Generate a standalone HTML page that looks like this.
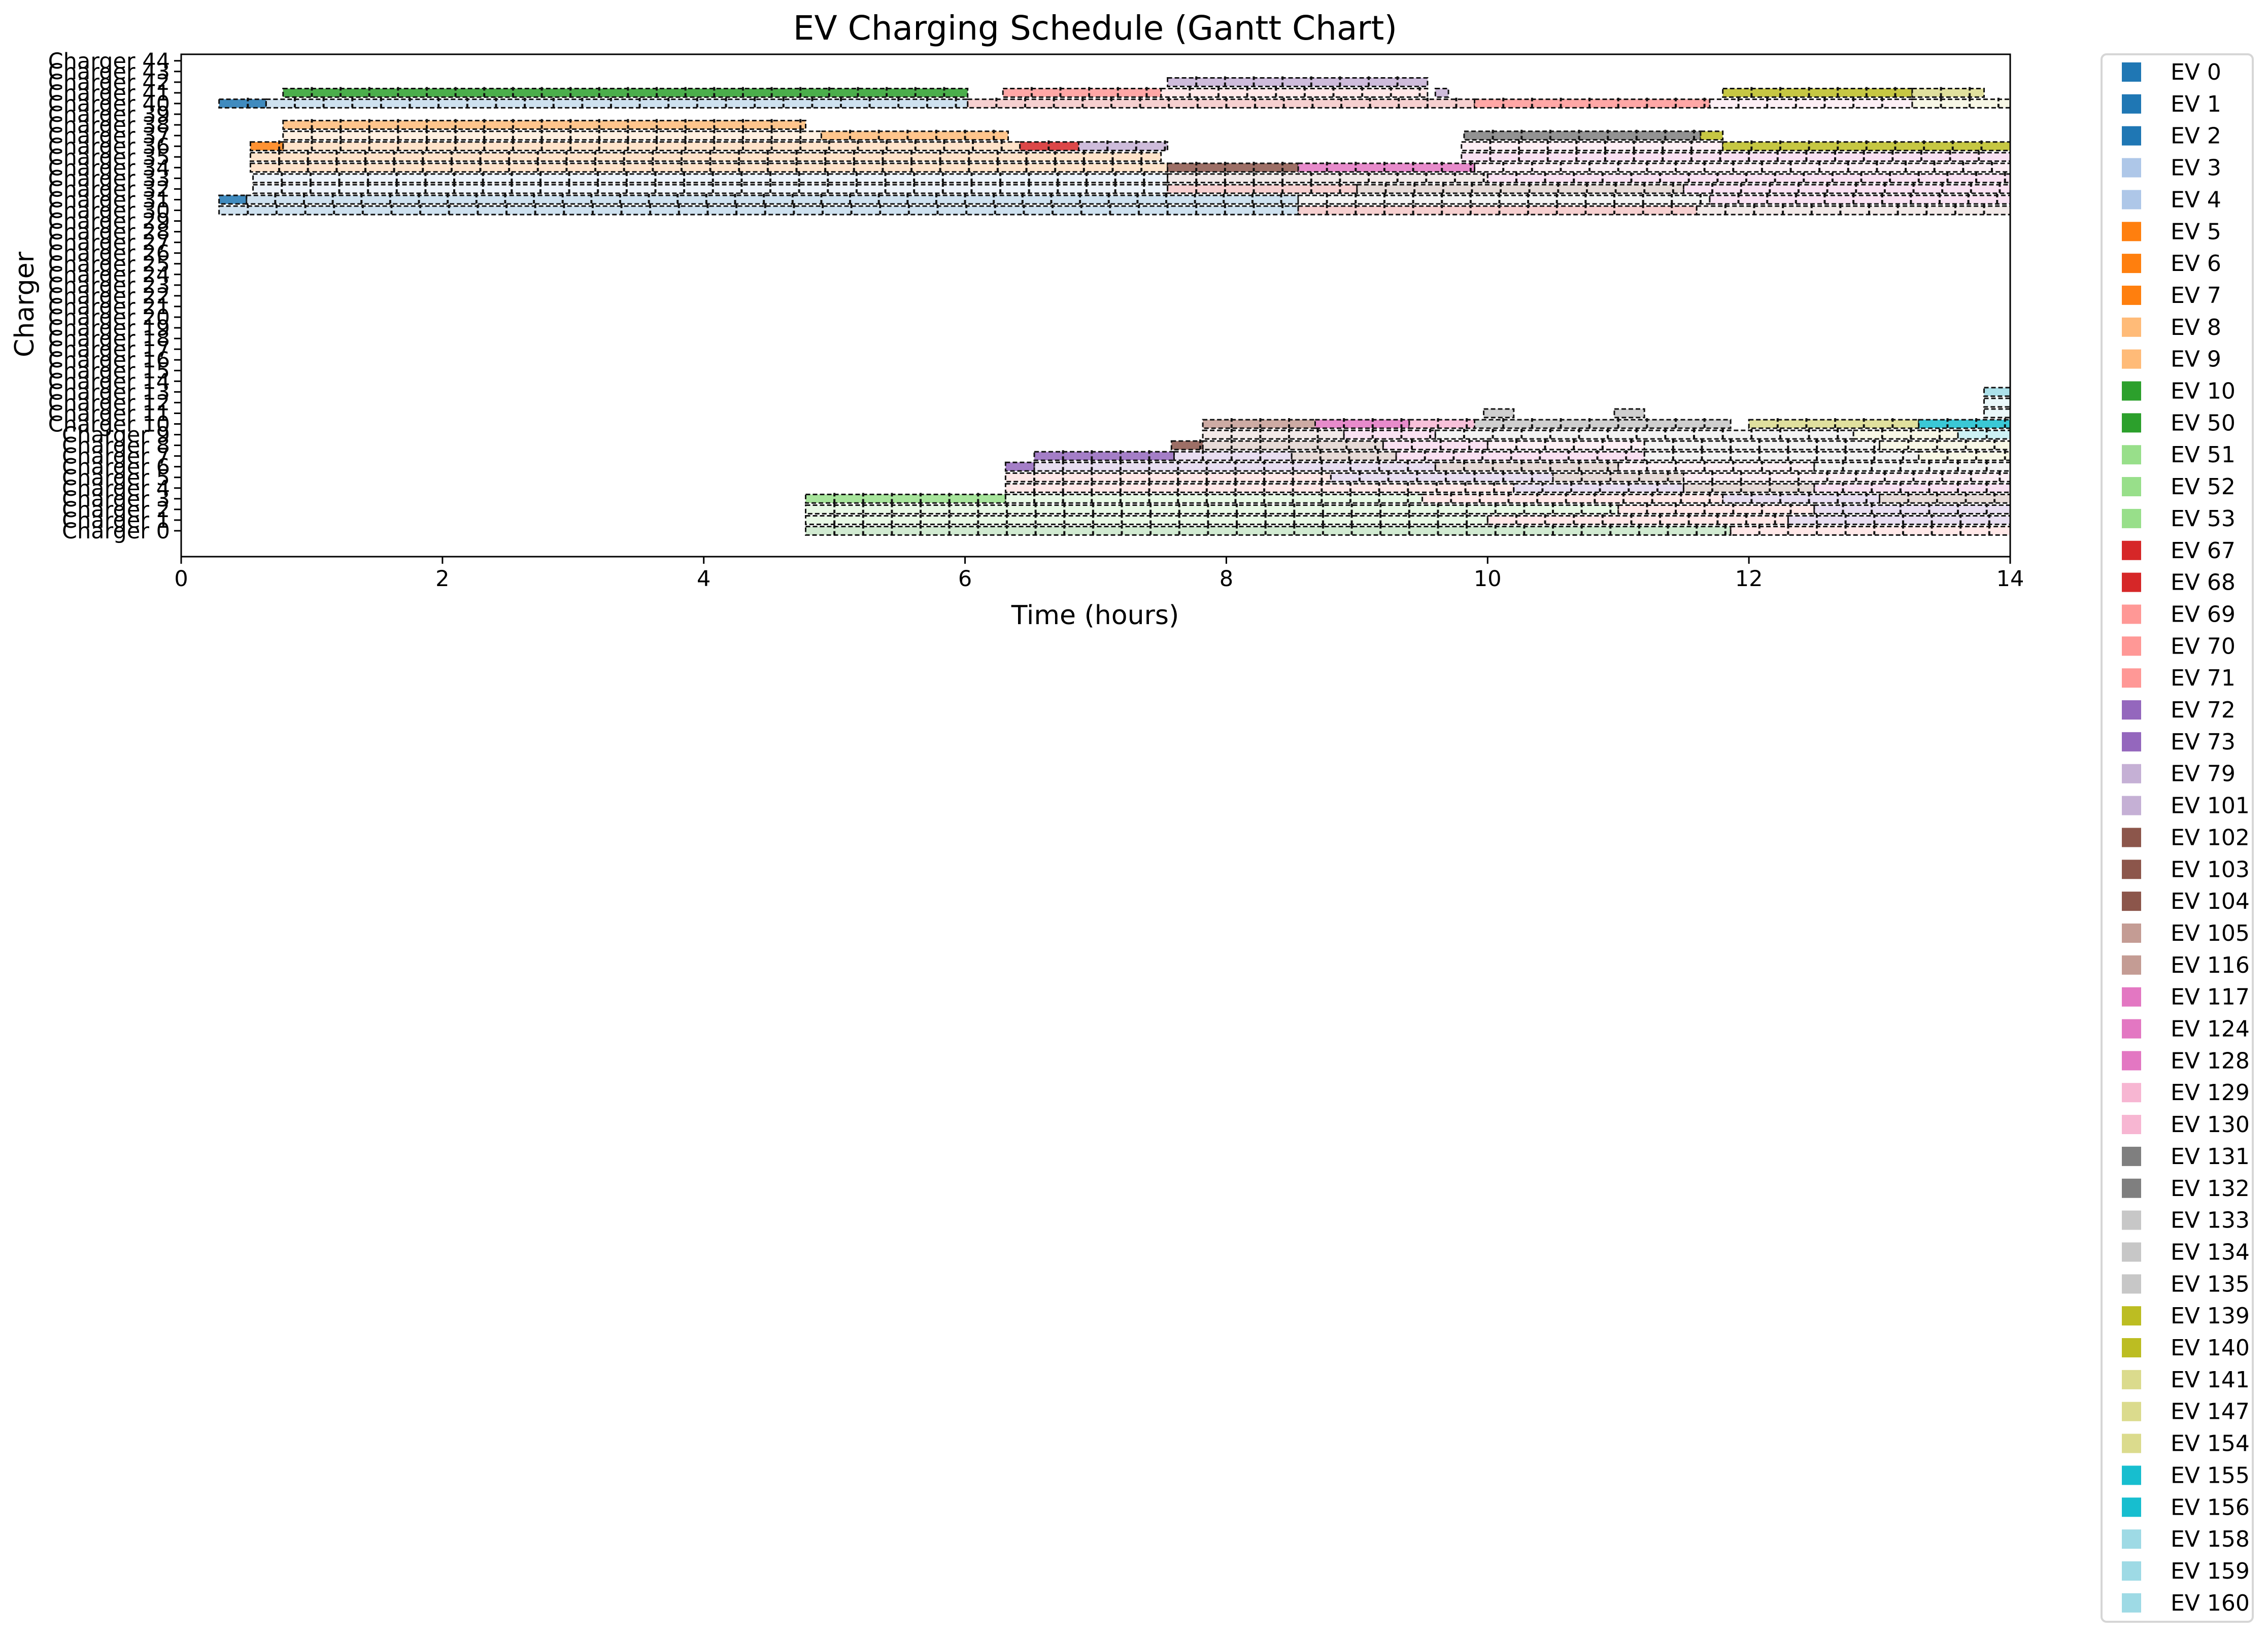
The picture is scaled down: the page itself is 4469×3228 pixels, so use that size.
<!DOCTYPE html>
<html><head><meta charset="utf-8">
<style>
html,body{margin:0;padding:0;background:#fff;}
svg{display:block;font-family:"DejaVu Sans","Liberation Sans",sans-serif;}
</style></head>
<body>
<svg id="chart" width="4469" height="3228" viewBox="0 0 4469 3228" xmlns="http://www.w3.org/2000/svg">
<rect x="0" y="0" width="4469" height="3228" fill="#fff"/>
<text x="2158" y="78" font-size="66" text-anchor="middle">EV Charging Schedule (Gantt Chart)</text>
<g id="bars"></g>
<g id="axes"></g>
<text x="2158" y="1230" font-size="52" text-anchor="middle">Time (hours)</text>
<text x="0" y="0" font-size="52" text-anchor="middle" transform="translate(66,600) rotate(-90)">Charger</text>
<g id="legend"></g>
</svg>
<script>
// ---- data ----
const segCharger = [42,41,41,41,41,41,41,40,40,40,40,40,40,38,37,37,37,37,36,36,36,36,36,36,35,35,34,34,34,34,33,33,33,32,32,32,32,31,31,31,31,30,30,30,
 0,0,1,1,1,2,2,2,3,3,3,3,3,4,4,4,4,5,5,5,5,6,6,6,6,6,7,7,7,7,7,7,8,8,8,8,8,8,9,9,9,9,9,10,10,10,10,10,10,11,11,11,12,13];
const segStart = [7.55,0.78,6.29,7.5,9.6,11.8,13.25,0.29,0.65,6.02,9.9,11.7,13.25,0.78,0.78,4.9,9.82,11.63,0.53,0.78,6.42,6.87,9.8,11.8,0.53,9.8,0.53,7.55,8.55,9.9,0.55,7.55,10,0.55,7.55,9,11.5,0.29,0.5,8.55,11.7,0.29,8.55,11.6,
 4.78,11.86,4.78,10,12.3,4.78,11,12.5,4.78,6.31,9.5,11.8,13,6.31,10.2,11.5,12.5,6.31,8.8,10.5,11.5,6.31,6.53,9.6,11,12.5,6.53,7.6,8.5,9.3,11.2,13.3,7.58,7.82,9.2,10,11.2,13,7.82,8.9,9.6,12.8,13.6,7.82,8.68,9.4,9.9,12.0,13.3,9.97,10.97,13.8,13.8,13.8];
const segEnd = [9.54,6.02,7.5,9.54,9.7,13.25,13.8,0.65,6.02,9.9,11.7,13.25,14,4.78,4.9,6.33,11.63,11.8,0.78,6.42,6.87,7.55,11.8,14,7.5,14,7.55,8.55,9.9,14,7.55,10,14,7.55,9,11.5,14,0.5,8.55,11.7,14,8.55,11.6,14,
 11.86,14,10,12.3,14,11,12.5,14,6.31,9.5,11.8,13,14,10.2,11.5,12.5,14,8.8,10.5,11.5,14,6.53,9.6,11,12.5,14,7.6,8.5,9.3,11.2,13.3,14,7.82,9.2,10,11.2,13,14,8.9,9.6,12.8,13.6,14,8.68,9.4,9.9,11.86,13.3,14,10.2,11.2,14,14,14];
const segEv = [79,10,69,69,79,139,141,0,1,67,69,129,141,8,9,8,131,139,5,5,67,79,129,139,6,117,7,102,117,129,3,105,117,4,67,102,117,0,1,133,117,2,67,105,
 50,70,51,69,72,52,70,73,53,53,71,72,103,69,73,103,124,70,72,104,129,72,73,104,130,133,72,73,102,128,134,147,103,103,124,130,135,154,116,128,134,154,156,105,117,129,133,141,155,133,134,159,158,160];
const legendEvs = [0,1,2,3,4,5,6,7,8,9,10,50,51,52,53,67,68,69,70,71,72,73,79,101,102,103,104,105,116,117,124,128,129,130,131,132,133,134,135,139,140,141,147,154,155,156,158,159,160];
const legendColorIdx = [0,0,0,1,1,2,2,2,3,3,4,4,5,5,5,6,6,7,7,7,8,8,9,9,10,10,10,11,11,12,12,12,13,13,14,14,15,15,15,16,16,17,17,17,18,18,19,19,19];
const chargerTicks = Array.from({length:45},(_, i)=>i);
const xTicks = [0,2,4,6,8,10,12,14];
// ---- styles ----
const palette = ['#1f77b4','#aec7e8','#ff7f0e','#ffbb78','#2ca02c','#98df8a','#d62728','#ff9896','#9467bd','#c5b0d5','#8c564b','#c49c94','#e377c2','#f7b6d2','#7f7f7f','#c7c7c7','#bcbd22','#dbdb8d','#17becf','#9edae5'];
const AX = {l:357, r:3961, t:107, b:1097};
const xs = h => AX.l + (h/14)*(AX.r-AX.l);
const ys = c => 1046 - c*21.05;
const NS = 'http://www.w3.org/2000/svg';
function colorOf(ev){ const i = legendEvs.indexOf(ev); return palette[legendColorIdx[i]]; }
function mk(tag, attrs, parent){ const e=document.createElementNS(NS,tag); for(const k in attrs) e.setAttribute(k,attrs[k]); parent.appendChild(e); return e; }

const bars = document.getElementById('bars');
const slot = 0.22, bh = 0.8*21.05;
for(let i=0;i<segCharger.length;i++){
  const c=segCharger[i], s=segStart[i], e=segEnd[i], mid=(s+e)/2;
  let covered=false;
  for(let j=0;j<segCharger.length;j++){ if(segCharger[j]===c+1 && segStart[j]<=mid && segEnd[j]>=mid){covered=true;break;} }
  const x0=xs(s), x1=xs(e), y0=ys(c)-bh/2;
  const r = mk('rect',{x:x0,y:y0,width:x1-x0,height:bh,fill:colorOf(segEv[i]),'fill-opacity':covered?0.22:0.85,stroke:'#111','stroke-width':3,'stroke-dasharray':'9,5'},bars);
  
  
  for(let t=s+slot;t<e-0.02;t+=slot){
    const l = mk('line',{x1:xs(t),x2:xs(t),y1:y0-3,y2:y0+bh+3,stroke:'#111','stroke-width':4,'stroke-dasharray':'7,5'},bars);
    
    
  }
}

const axes = document.getElementById('axes');
const frame = mk('rect',{x:AX.l,y:AX.t,width:AX.r-AX.l,height:AX.b-AX.t,fill:'none',stroke:'#000','stroke-width':3},axes);


xTicks.forEach(v=>{
  const x=xs(v);
  const tk = mk('line',{x1:x,x2:x,y1:AX.b,y2:AX.b+14,stroke:'#000','stroke-width':3},axes);
  
  
  const t = mk('text',{x:x,y:AX.b+58,'font-size':43,'text-anchor':'middle'},axes);
  t.textContent = v;
  
  
});
chargerTicks.forEach(c=>{
  const y=ys(c);
  const tk = mk('line',{x1:AX.l-14,x2:AX.l,y1:y,y2:y,stroke:'#000','stroke-width':3},axes);
  
  
  const t = mk('text',{x:AX.l-22,y:y+15,'font-size':43,'text-anchor':'end'},axes);
  t.textContent = 'Charger ' + c;
  
  
});

const lg = document.getElementById('legend');
const box = mk('rect',{x:4141,y:107,width:298,height:3089,rx:10,fill:'#fff',stroke:'#d6d6d6','stroke-width':4},lg);


legendEvs.forEach((ev,i)=>{
  const y = 123 + i*62.85;
  const p = mk('rect',{x:4181,y:y,width:38,height:38,fill:palette[legendColorIdx[i]]},lg);
  
  
  const t = mk('text',{x:4277,y:y+34,'font-size':44},lg);
  t.textContent = 'EV ' + ev;
  
  
});
</script>
</body></html>
